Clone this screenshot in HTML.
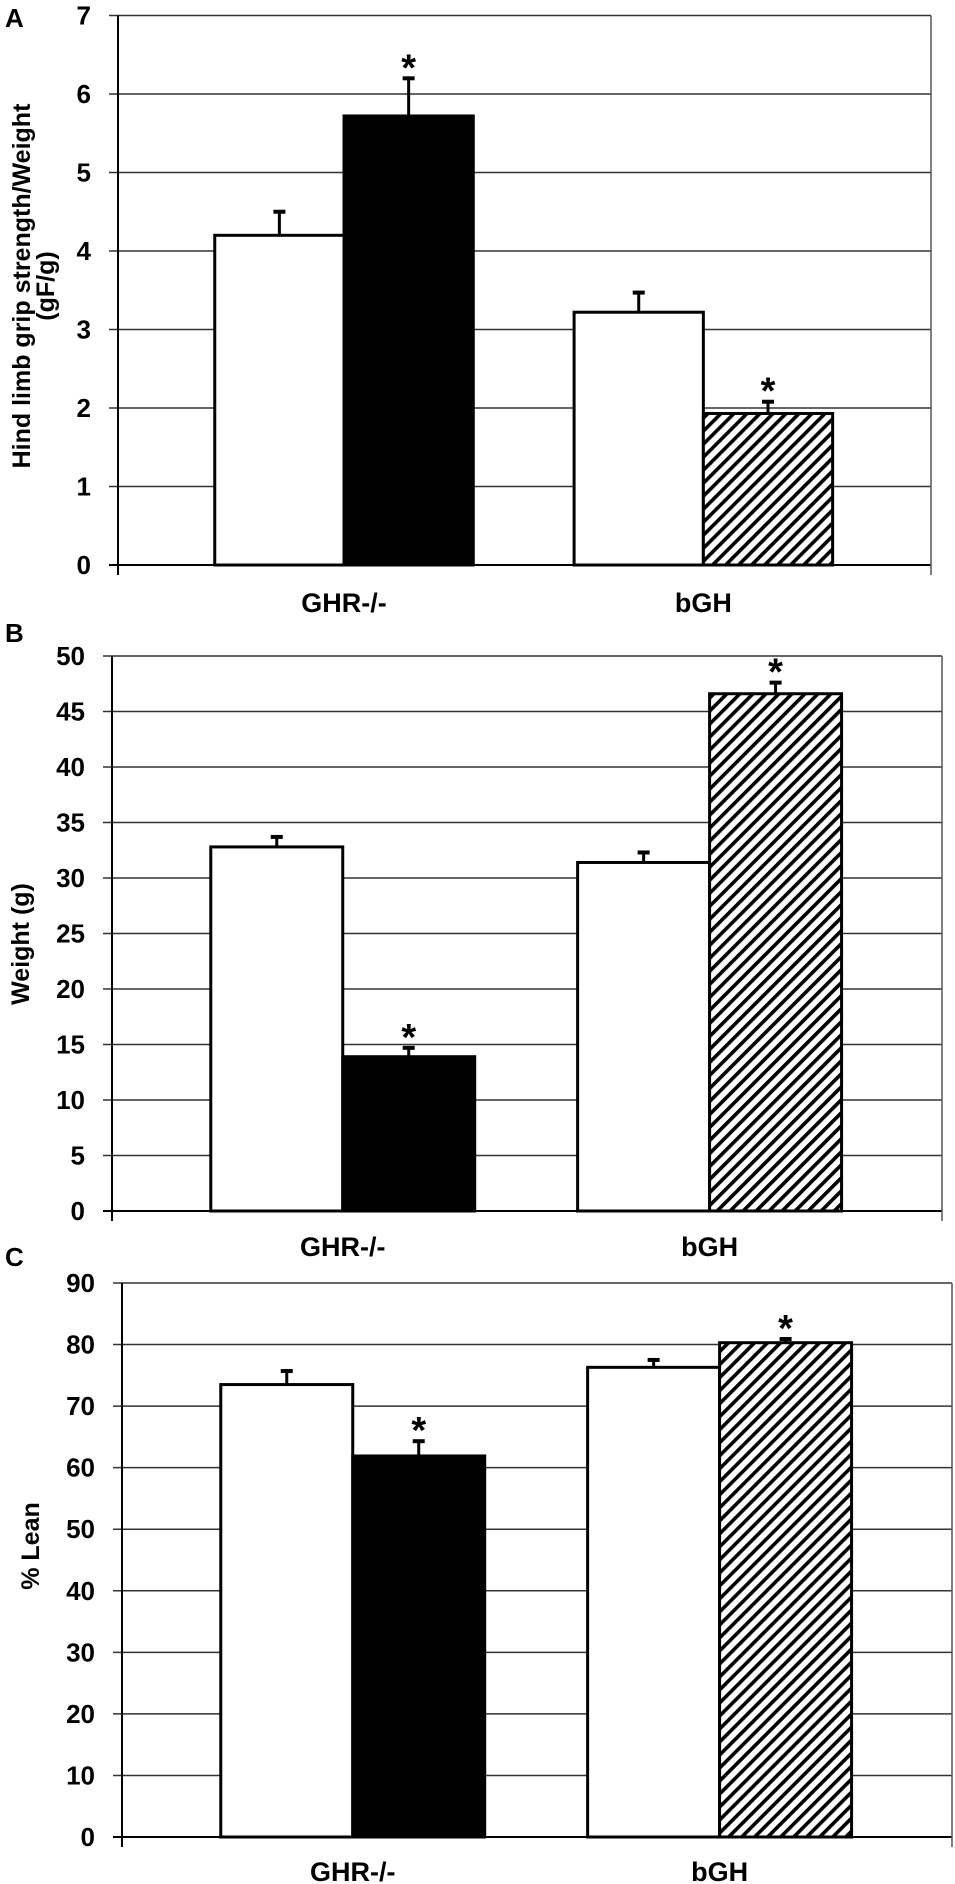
<!DOCTYPE html>
<html><head><meta charset="utf-8"><style>
html,body{margin:0;padding:0;background:#fff;}
svg{display:block;font-family:"Liberation Sans",Arial,sans-serif;}
</style></head><body>
<svg id="fig" width="955" height="1884" viewBox="0 0 955 1884" xmlns="http://www.w3.org/2000/svg">
<defs>
<pattern id="hatch" patternUnits="userSpaceOnUse" width="9.2" height="9.2" patternTransform="rotate(45)">
<rect width="9.2" height="9.2" fill="#fff"/>
<rect x="0" y="0" width="3.6" height="9.2" fill="#000"/>
</pattern>
</defs>
</svg>
<script>
// ---- data ----
const categories = ["GHR-/-", "bGH"];
const gripMeans = [4.2, 5.72, 3.22, 1.93];
const gripErrors = [4.5, 6.2, 3.47, 2.08];
const gripTicks = [0,1,2,3,4,5,6,7];
const weightMeans = [32.8, 13.9, 31.4, 46.6];
const weightErrors = [33.7, 14.7, 32.3, 47.6];
const weightTicks = [0,5,10,15,20,25,30,35,40,45,50];
const leanMeans = [73.5, 61.9, 76.3, 80.3];
const leanErrors = [75.7, 64.3, 77.5, 80.9];
const leanTicks = [0,10,20,30,40,50,60,70,80,90];
const barFills = ["#fff", "#000", "#fff", "url(#hatch)"];
const significant = [false, true, false, true];

const NS = "http://www.w3.org/2000/svg";
const svg = document.getElementById("fig");
function mk(tag, attrs, parent){
  const e = document.createElementNS(NS, tag);
  for (const k in attrs) e.setAttribute(k, attrs[k]);
  (parent||svg).appendChild(e);
  return e;
}

function panel(p){
  const g = mk("g", {});
  
  
  const maxV = p.ticks[p.ticks.length-1];
  const y = v => p.y0 - (v/maxV)*(p.y0 - p.yTop);
  const W = p.right - p.left;
  const x = frac => p.left + frac*W;
  p.ticks.forEach(t => {
    const gl = mk("line", {x1: p.left-9, x2: p.right, y1: y(t), y2: y(t), stroke: t===0?"#000":"#333", "stroke-width": t===0?2:1.5}, g);
    
    
    const tl = mk("text", {x: p.left-27, y: y(t)+9, "text-anchor": "end", "font-size": 26, "font-weight": "bold"}, g);
    tl.textContent = t;
    
    
  });
  const ax = mk("line", {x1: p.left, x2: p.left, y1: p.yTop, y2: p.y0+10, stroke: "#000", "stroke-width": 2}, g);
  
  
  const rx = mk("line", {x1: p.right, x2: p.right, y1: p.yTop, y2: p.y0+10, stroke: "#555", "stroke-width": 1.5}, g);
  
  
  const centers = [0.278, 0.72];
  const bw = 0.159*W;
  p.means.forEach((m, i) => {
    const c = x(centers[Math.floor(i/2)]);
    const bx = (i%2===0) ? c - bw : c;
    const r = mk("rect", {x: bx, y: y(m), width: bw, height: y(0)-y(m), fill: barFills[i], stroke: "#000", "stroke-width": 3}, g);
    
    
    const mx = bx + bw/2;
    const el = mk("line", {x1: mx, x2: mx, y1: y(m), y2: y(p.errs[i]), stroke: "#000", "stroke-width": 3}, g);
    
    
    const cap = mk("line", {x1: mx-6, x2: mx+6, y1: y(p.errs[i]), y2: y(p.errs[i]), stroke: "#000", "stroke-width": 4}, g);
    
    
    if (significant[i]) {
      const s = mk("text", {x: mx, y: y(p.errs[i])+2, "text-anchor": "middle", "font-size": 38, "font-weight": "bold"}, g);
      s.textContent = "*";
      
      
    }
  });
  categories.forEach((c, k) => {
    const t = mk("text", {x: x(centers[k]), y: p.labelY+9, "text-anchor": "middle", "font-size": 27, "font-weight": "bold"}, g);
    t.textContent = c;
    
    
  });
  const tt = mk("text", {transform: "translate(" + p.titleX + "," + p.titleY + ") rotate(-90)", "text-anchor": "middle", "font-size": 25, "font-weight": "bold"}, g);
  
  
  p.title.forEach((line, li) => {
    const ts = mk("tspan", {x: 0, dy: li===0 ? (8 - (p.title.length-1)*12) : 24}, tt);
    ts.textContent = line;
  });
  const pl = mk("text", {x: 5, y: p.letterY+9, "font-size": 26, "font-weight": "bold"}, g);
  pl.textContent = p.letter;
  
  
}

panel({name: "panel-a-grip-strength", letter: "A", letterY: 18, left: 118, right: 931, y0: 565, yTop: 15.5, ticks: gripTicks, means: gripMeans, errs: gripErrors, labelY: 603, title: ["Hind limb grip strength/Weight", "(gF/g)"], titleX: 34, titleY: 286});
panel({name: "panel-b-weight", letter: "B", letterY: 633, left: 112, right: 942, y0: 1211, yTop: 656, ticks: weightTicks, means: weightMeans, errs: weightErrors, labelY: 1247, title: ["Weight (g)"], titleX: 21, titleY: 944});
panel({name: "panel-c-lean", letter: "C", letterY: 1257, left: 122, right: 952, y0: 1837, yTop: 1283, ticks: leanTicks, means: leanMeans, errs: leanErrors, labelY: 1872, title: ["% Lean"], titleX: 31, titleY: 1546});
</script>
</body></html>
